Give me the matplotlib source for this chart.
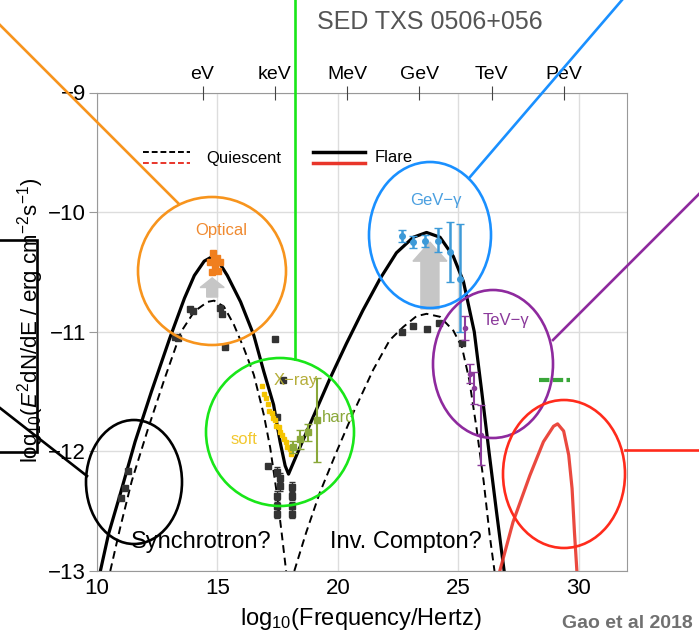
import matplotlib
matplotlib.use("Agg")
import matplotlib.pyplot as plt
from matplotlib.patches import Ellipse, Rectangle
from matplotlib.lines import Line2D

plt.rcParams['font.family'] = ['Liberation Sans', 'DejaVu Sans']
plt.rcParams['mathtext.fontset'] = 'custom'
plt.rcParams['mathtext.rm'] = 'Liberation Sans'
plt.rcParams['mathtext.it'] = 'Liberation Sans:italic'

# --- model curves ---
flare_x = [10.14, 10.48, 10.96, 11.58, 12.26, 13.01, 13.63, 14.04, 14.45, 14.8, 15.1, 15.41,
           15.96, 16.51, 16.92, 17.33, 17.6, 17.81, 17.95, 18.5, 19.0, 19.65, 20.35, 21.04,
           21.74, 22.43, 23.13, 23.68, 24.24, 24.79, 25.21, 25.66, 25.97, 26.27, 26.58, 26.9]
flare_y = [-13.0, -12.69, -12.36, -11.92, -11.50, -11.06, -10.72, -10.53, -10.41, -10.37, -10.43, -10.53,
           -10.75, -11.03, -11.33, -11.61, -11.92, -12.12, -12.19, -11.93, -11.70, -11.40, -11.10, -10.82,
           -10.56, -10.34, -10.21, -10.17, -10.21, -10.37, -10.58, -11.0, -11.5, -12.0, -12.5, -13.0]

quiet_sync_x = [10.55, 10.96, 11.44, 12.12, 12.81, 13.49, 14.04, 14.59, 14.86, 15.27, 15.68,
                16.10, 16.51, 16.92, 17.19, 17.47, 17.67, 17.85]
quiet_sync_y = [-13.0, -12.64, -12.25, -11.81, -11.39, -11.0, -10.83, -10.75, -10.74, -10.79, -10.94,
                -11.14, -11.36, -11.69, -11.97, -12.36, -12.69, -13.0]

quiet_ic_x = [18.19, 18.68, 19.24, 19.93, 20.63, 21.46, 22.15, 22.71, 23.26, 23.68, 24.24, 24.79,
              25.15, 25.45, 25.75, 26.05, 26.3, 26.5]
quiet_ic_y = [-13.0, -12.68, -12.35, -12.01, -11.68, -11.32, -11.07, -10.96, -10.87, -10.85, -10.875, -10.99,
              -11.13, -11.4, -11.8, -12.25, -12.7, -13.0]

nu_x = [26.72, 27.27, 27.97, 28.53, 28.95, 29.12, 29.37, 29.58, 29.72, 29.82, 29.92]
nu_y = [-13.0, -12.59, -12.2, -11.92, -11.79, -11.77, -11.83, -12.03, -12.31, -12.68, -13.0]

nu_limit_x = [28.35, 29.65]
nu_limit_y = [-11.40, -11.40]

# --- data points ---
quiet_x = [11.0, 11.16, 11.30, 13.24, 13.36, 13.86, 13.98, 15.1, 15.18, 15.3, 17.38, 17.47,
           17.72, 17.1, 22.66, 23.11, 23.69, 24.19, 25.15]
quiet_y = [-12.39, -12.31, -12.16, -11.04, -11.05, -10.81, -10.83, -10.8, -10.85, -11.13, -11.06, -11.71,
           -11.4, -12.12, -11.0, -10.95, -10.98, -10.93, -11.09]

xray_q_x = [17.47, 17.59, 17.59, 17.47, 17.47, 17.47, 18.09, 18.09, 18.09, 18.09]
xray_q_y = [-12.17, -12.22, -12.29, -12.37, -12.46, -12.52, -12.30, -12.37, -12.46, -12.52]

opt_x = [14.81, 14.98, 14.69, 15.1, 14.9, 14.77, 15.02, 14.85]
opt_y = [-10.34, -10.38, -10.42, -10.42, -10.46, -10.5, -10.49, -10.4]

soft_x = [16.85, 16.95, 17.0, 17.1, 17.15, 17.25, 17.3, 17.4, 17.45, 17.55, 17.6, 17.7,
          17.75, 17.85, 17.9, 18.0, 18.05]
soft_y = [-11.45, -11.52, -11.55, -11.6, -11.66, -11.68, -11.72, -11.74, -11.79, -11.8, -11.84, -11.86,
          -11.9, -11.92, -11.96, -11.98, -12.02]

hard_x = [18.13, 18.42, 18.76, 19.13]
hard_y = [-11.96, -11.90, -11.84, -11.74]
hard_err = [0.05, 0.08, 0.07, 0.35]

gev_x = [22.66, 23.11, 23.61, 24.15, 24.65, 25.06]
gev_y = [-10.20, -10.25, -10.24, -10.24, -10.33, -10.56]
gev_lo = [0.05, 0.05, 0.05, 0.09, 0.25, 0.44]
gev_hi = [0.05, 0.05, 0.05, 0.11, 0.25, 0.46]

tev_x = [25.27, 25.5, 25.65, 25.92]
tev_y = [-10.97, -11.35, -11.47, -11.86]
tev_err = [0.1, 0.08, 0.13, 0.25]

top_ticks = [14.38, 17.38, 20.38, 23.38, 26.38, 29.38]
top_labels = ['eV', 'keV', 'MeV', 'GeV', 'TeV', 'PeV']

W, H = 699, 638
fig = plt.figure(figsize=(W / 100, H / 100), dpi=100)
ax = fig.add_axes([97 / W, 1 - 571 / H, 530 / W, (571 - 92.5) / H])


def fxy(x, y):
    return x / W, 1 - y / H


# curves
ax.plot(quiet_sync_x, quiet_sync_y, color='k', lw=1.4, ls=(0, (4, 2.5)))
ax.plot(quiet_ic_x, quiet_ic_y, color='k', lw=1.4, ls=(0, (4, 2.5)))
ax.plot(flare_x, flare_y, color='k', lw=2.3)
ax.plot(nu_x, nu_y, color='#e8352a', lw=2.3, alpha=0.9)
ax.plot(nu_limit_x, nu_limit_y, color='#3aa63a', lw=3, ls=(0, (2.5, 0.8)))

# arrows quiescent -> flare
ax.arrow(14.78, -10.71, 0, 0.08, width=0.45, head_width=1.0, head_length=0.08,
         length_includes_head=False, color='#c6c6c6', zorder=2)
ax.arrow(23.82, -10.81, 0, 0.40, width=0.75, head_width=1.41, head_length=0.16,
         length_includes_head=False, color='#c6c6c6', zorder=2)

# data
ax.plot(quiet_x, quiet_y, 's', color='#333333', ms=4.5, zorder=4)
ax.errorbar(xray_q_x, xray_q_y, yerr=0.04, fmt='s', color='#333333', ms=4, capsize=2, lw=1, zorder=4)
ax.plot(opt_x, opt_y, 's', color='#f07f1e', ms=5, zorder=4)
ax.plot(soft_x, soft_y, 's', color='#f5c400', ms=3.5, zorder=4)
ax.errorbar(hard_x, hard_y, yerr=hard_err, fmt='s', color='#8aa83a', ms=4, capsize=3, lw=1.5, zorder=4)
ax.errorbar(gev_x, gev_y, yerr=[gev_lo, gev_hi], fmt='o', color='#3d9ad8', ms=4, capsize=3, lw=1.8, zorder=4)
ax.errorbar(tev_x, tev_y, yerr=tev_err, fmt='o', color='#8b3a9b', ms=3, capsize=3, lw=1.5, zorder=4)

ax.set_xlim(10, 32)
ax.set_ylim(-13, -9)
ax.set_xticks([10, 15, 20, 25, 30])
ax.set_yticks([-13, -12, -11, -10, -9])
ax.set_yticklabels(['\u221213', '\u221212', '\u221211', '\u221210', '\u22129'])
ax.grid(True, color='#dddddd', lw=1)
ax.set_axisbelow(True)
ax.tick_params(axis='x', direction='in', length=0, labelsize=16, pad=5)
ax.tick_params(axis='y', direction='out', length=6, color='#999999', labelsize=16, pad=2)
for s in ax.spines.values():
    s.set_color('#999999')

top = ax.twiny()
top.set_xlim(ax.get_xlim())
top.set_xticks(top_ticks)
top.set_xticklabels(top_labels)
top.tick_params(direction='inout', length=10, color='#444444', labelsize=14, pad=2)
for s in top.spines.values():
    s.set_visible(False)

# callout circles and leader lines (figure pixels)
def ellipse(cx, cy, rx, ry, color):
    fig.add_artist(Ellipse(fxy(cx, cy), 2 * rx / W, 2 * ry / H, transform=fig.transFigure,
                           fill=False, ec=color, lw=1.9, zorder=10))


def leader(x0, y0, x1, y1, color):
    a, b = fxy(x0, y0)
    c, d = fxy(x1, y1)
    fig.add_artist(Line2D([a, c], [b, d], transform=fig.transFigure, color=color, lw=1.9, zorder=10))


ellipse(212, 271, 74, 74, '#f7941d')
leader(0, 25, 179, 204, '#f7941d')
ellipse(430, 235, 61, 73, '#1a90ff')
leader(622, 0, 470, 177, '#1a90ff')
ellipse(280, 432, 74, 74, '#19e619')
leader(295, 0, 295, 359, '#19e619')
ellipse(493, 364, 60, 74, '#8e2a9e')
leader(699, 194, 553, 340, '#8e2a9e')
ellipse(564, 474, 61, 74, '#ff2b1c')
leader(625, 450, 699, 450, '#ff2b1c')
ellipse(134, 482, 48, 62, 'k')
leader(0, 408, 87, 476, 'k')
fig.add_artist(Rectangle(fxy(-5, 452), 42 / W, 212 / H, transform=fig.transFigure,
                         fill=False, ec='k', lw=1.9, zorder=10))

# legend
leader_style = dict(transform=fig.transFigure, zorder=11)
for (x0, x1, y, c, ls, lw) in [(143, 190, 152, 'k', (0, (3, 1.5)), 1.4),
                               (143, 190, 163, '#e8352a', (0, (3, 1.5)), 1.4),
                               (313, 365, 152, 'k', '-', 2.5),
                               (313, 365, 163, '#e8352a', '-', 2.5)]:
    a, b = fxy(x0, y)
    c2, d = fxy(x1, y)
    fig.add_artist(Line2D([a, c2], [b, d], color=c, ls=ls, lw=lw, **leader_style))
fig.text(*fxy(206, 158), 'Quiescent', fontsize=12, va='center')
fig.text(*fxy(375, 158), 'Flare', fontsize=12, va='center')

# labels
fig.text(*fxy(221, 231), 'Optical', fontsize=12, color='#f08a30', ha='center', va='center')
fig.text(*fxy(436, 201), 'GeV\u2212\u03b3', fontsize=12, color='#4a9fe0', ha='center', va='center')
fig.text(*fxy(506, 321), 'TeV\u2212\u03b3', fontsize=12, color='#8b3a9b', ha='center', va='center')
fig.text(*fxy(296, 381), 'X\u2212ray', fontsize=12, color='#b5ae3a', ha='center', va='center')
fig.text(*fxy(339, 417), 'hard', fontsize=12, color='#8aa83a', ha='center', va='center')
fig.text(*fxy(244, 440), 'soft', fontsize=12, color='#f2c830', ha='center', va='center')
fig.text(*fxy(201, 542), 'Synchrotron?', fontsize=17, ha='center', va='center')
fig.text(*fxy(406, 542), 'Inv. Compton?', fontsize=17, ha='center', va='center')

fig.text(*fxy(430, 22), 'SED TXS 0506+056', fontsize=18, color='#555555', ha='center', va='center')
fig.text(*fxy(361, 619), 'log$_{10}$(Frequency/Hertz)', fontsize=17, ha='center', va='center')
fig.text(*fxy(31, 320), 'log$_{10}$($E^2$dN/dE / erg cm$^{-2}$s$^{-1}$)', fontsize=16,
         rotation=90, ha='center', va='center')
fig.text(*fxy(693, 624), 'Gao et al 2018', fontsize=14, fontweight='bold', color='#707070',
         ha='right', va='center')

fig.savefig('out.png', dpi=100)
